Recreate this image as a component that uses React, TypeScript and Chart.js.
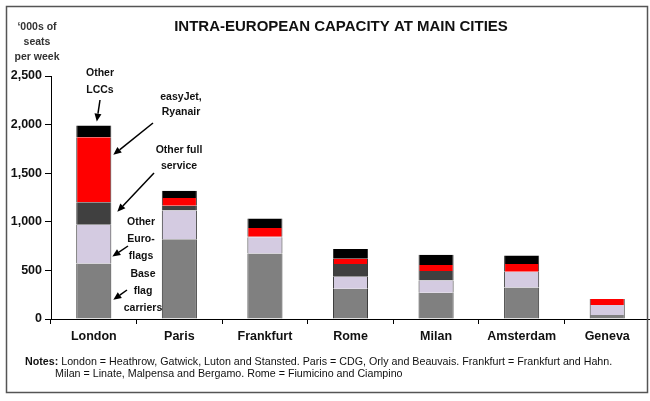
import React, { useEffect, useRef } from 'react';
import { Chart, registerables } from 'chart.js';

Chart.register(...registerables);

const cities = ['London', 'Paris', 'Frankfurt', 'Rome', 'Milan', 'Amsterdam', 'Geneva'];
const baseFlagCarriers = [570, 820, 675, 310, 270, 325, 40];
const otherEuroFlags = [400, 295, 165, 125, 125, 162, 104];
const otherFullService = [230, 50, 5, 130, 100, 0, 0];
const easyJetRyanair = [670, 80, 90, 55, 60, 79, 62];
const otherLCCs = [120, 75, 100, 100, 105, 87, 0];
const yTickValues = [0, 500, 1000, 1500, 2000, 2500];

const seriesNames = ['Base flag carriers', 'Other Euro-flags', 'Other full service', 'easyJet, Ryanair', 'Other LCCs'];
const seriesValues = [baseFlagCarriers, otherEuroFlags, otherFullService, easyJetRyanair, otherLCCs];
const seriesColors = ['#808080', '#d4cbe1', '#404040', '#ff0000', '#000000'];

const titleText = 'INTRA-EUROPEAN CAPACITY AT MAIN CITIES';
const yTitleLines = ['\u2018000s of', 'seats', 'per week'];
const notesLine1 = 'London = Heathrow, Gatwick, Luton and Stansted. Paris = CDG, Orly and Beauvais. Frankfurt = Frankfurt and Hahn.';
const notesLine2 = 'Milan = Linate, Malpensa and Bergamo. Rome = Fiumicino and Ciampino';

const annotationLabels = [
  ['Other', 'LCCs'],
  ['easyJet,', 'Ryanair'],
  ['Other full', 'service'],
  ['Other', 'Euro-', 'flags'],
  ['Base', 'flag', 'carriers'],
];

const FONT = '"Liberation Sans", Arial, Helvetica, sans-serif';

function arrow(ctx: CanvasRenderingContext2D, x1: number, y1: number, x2: number, y2: number) {
  const ang = Math.atan2(y2 - y1, x2 - x1);
  const head = 8;
  const hw = 3.5;
  const bx = x2 - head * Math.cos(ang);
  const by = y2 - head * Math.sin(ang);
  ctx.beginPath();
  ctx.moveTo(x1, y1);
  ctx.lineTo(bx, by);
  ctx.lineWidth = 1.5;
  ctx.strokeStyle = '#000';
  ctx.stroke();
  ctx.beginPath();
  ctx.moveTo(x2, y2);
  ctx.lineTo(bx + hw * Math.sin(ang), by - hw * Math.cos(ang));
  ctx.lineTo(bx - hw * Math.sin(ang), by + hw * Math.cos(ang));
  ctx.closePath();
  ctx.fillStyle = '#000';
  ctx.fill();
}

export default function App() {
  const ref = useRef<HTMLCanvasElement>(null);

  useEffect(() => {
    document.body.style.margin = '0';
    const canvas = ref.current!;

    const decor = {
      id: 'decor',
      beforeDraw(chart: any) {
        const ctx = chart.ctx;
        ctx.save();
        ctx.fillStyle = '#ffffff';
        ctx.fillRect(0, 0, chart.width, chart.height);
        ctx.restore();
      },
      afterDraw(chart: any) {
        const ctx: CanvasRenderingContext2D = chart.ctx;
        ctx.save();
        // Title
        ctx.fillStyle = '#111';
        ctx.textAlign = 'center';
        ctx.textBaseline = 'middle';
        ctx.font = `bold 15px ${FONT}`;
        ctx.fillText(titleText, 341, 27);

        // Y-axis title
        ctx.fillStyle = '#333';
        ctx.font = `bold 10.5px ${FONT}`;
        yTitleLines.forEach((t, i) => ctx.fillText(t, 37, 27 + i * 15));

        // Notes
        ctx.textAlign = 'left';
        ctx.fillStyle = '#111';
        ctx.font = `bold 10.7px ${FONT}`;
        ctx.fillText('Notes:', 25, 362);
        const nw = ctx.measureText('Notes: ').width;
        ctx.font = `10.7px ${FONT}`;
        ctx.fillText(notesLine1, 25 + nw, 362);
        ctx.fillText(notesLine2, 55, 374);

        // Annotations on London bar
        const metas = [0, 1, 2, 3, 4].map((k) => chart.getDatasetMeta(k).data[0] as any);
        const seg = (k: number, f: number) => metas[k].y + f * (metas[k].base - metas[k].y);
        const right = metas[0].x + metas[0].width / 2;
        ctx.textAlign = 'center';
        ctx.font = `bold 10.5px ${FONT}`;
        ctx.fillStyle = '#111';
        const textPos = [
          [100, 73, 17],
          [181, 97, 15],
          [179, 150, 16],
          [141, 222, 17],
          [143, 274, 17],
        ];
        annotationLabels.forEach((lines, i) => {
          const [tx, ty, lh] = textPos[i];
          lines.forEach((t, j) => ctx.fillText(t, tx, ty + j * lh));
        });
        arrow(ctx, 100, 100, metas[4].x + 3, metas[4].y - 4);
        arrow(ctx, 153, 123, right + 2, seg(3, 0.27));
        arrow(ctx, 154, 173, right + 6, seg(2, 0.42));
        arrow(ctx, 128, 246, right + 1, seg(1, 0.82));
        arrow(ctx, 127, 290, right + 2, seg(0, 0.66));

        // Frame
        ctx.strokeStyle = '#555';
        ctx.lineWidth = 1.5;
        ctx.strokeRect(6.5, 6.5, 641, 386);
        ctx.restore();
      },
    };

    const chart = new Chart(canvas, {
      type: 'bar',
      data: {
        labels: cities,
        datasets: seriesValues.map((vals, i) => ({
          label: seriesNames[i],
          data: vals,
          backgroundColor: seriesColors[i],
          borderColor: '#333',
          borderWidth: (c: any) => (c.raw ? { left: 1, right: 1, top: 0, bottom: 0 } : 0),
          borderSkipped: false,
          barPercentage: 0.41,
          categoryPercentage: 1,
        })),
      },
      options: {
        responsive: false,
        animation: false,
        devicePixelRatio: 1,
        layout: { padding: { top: 76, right: 0, bottom: 0, left: 0 } },
        plugins: {
          legend: { display: false },
          tooltip: { enabled: false },
          title: { display: false },
        },
        scales: {
          x: {
            stacked: true,
            grid: { offset: true, drawOnChartArea: false, drawTicks: true, tickLength: 5, color: '#000' },
            border: { display: true, color: '#000', width: 1 },
            ticks: {
              color: '#111',
              font: { family: FONT, size: 12.5, weight: 'bold' },
              padding: 5,
              maxRotation: 0,
              autoSkip: false,
            },
            afterFit: (s: any) => {
              s.height = 82;
            },
          },
          y: {
            stacked: true,
            min: yTickValues[0],
            max: yTickValues[yTickValues.length - 1],
            afterBuildTicks: (s: any) => {
              s.ticks = yTickValues.map((v) => ({ value: v }));
            },
            grid: { drawOnChartArea: false, drawTicks: true, tickLength: 6, color: '#000' },
            border: { display: true, color: '#000', width: 1 },
            ticks: {
              color: '#111',
              font: { family: FONT, size: 12.5, weight: 'bold' },
              padding: 3,
              callback: (v: any) => Number(v).toLocaleString('en-US'),
            },
            afterFit: (s: any) => {
              s.width = 51;
            },
          },
        },
      } as any,
      plugins: [decor],
    });
    return () => chart.destroy();
  }, []);

  return <canvas ref={ref} width={650} height={401} style={{ display: 'block' }} />;
}
